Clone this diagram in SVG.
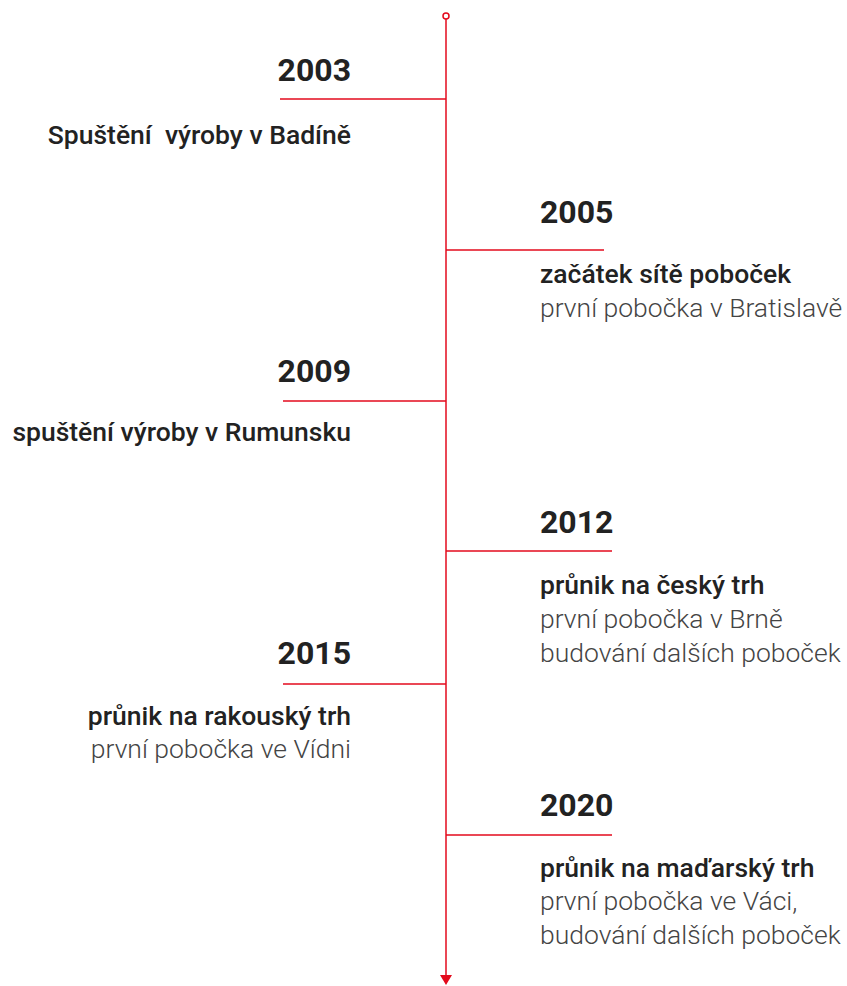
<svg xmlns="http://www.w3.org/2000/svg" width="847" height="986" viewBox="0 0 847 986">
<style>
.yr{font-family:Roboto,"Liberation Sans",sans-serif;font-weight:700;font-size:32px;fill:#222}
.hd{font-family:Roboto,"Liberation Sans",sans-serif;font-weight:500;font-size:26.5px;fill:#222;white-space:pre}
.tx{font-family:Roboto,"Liberation Sans",sans-serif;font-weight:300;font-size:26.5px;fill:#444}
.r{text-anchor:end}
.ln{stroke:#e30a1c;stroke-width:1.5;fill:none}
</style>
<defs>
<marker id="ah" markerWidth="11" markerHeight="12" refX="1" refY="6" orient="auto" markerUnits="userSpaceOnUse">
<path d="M0,0 L10,6 L0,12 Z" fill="#e30a1c"/>
</marker>
</defs>
<g id="connectors">
<line class="ln" x1="446" y1="19" x2="446" y2="976" marker-end="url(#ah)"/>
<circle class="ln" cx="446" cy="16" r="3" fill="#fff"/>
<line class="ln" x1="280" y1="99" x2="446" y2="99"/>
<line class="ln" x1="446" y1="250" x2="604" y2="250"/>
<line class="ln" x1="283" y1="401" x2="446" y2="401"/>
<line class="ln" x1="446" y1="551" x2="612" y2="551"/>
<line class="ln" x1="283" y1="684" x2="446" y2="684"/>
<line class="ln" x1="446" y1="835" x2="612" y2="835"/>
</g>
<g id="n2003"><text class="yr r" x="351" y="81">2003</text><text class="hd r" x="351" y="144" xml:space="preserve">Spuštění  výroby v Badíně</text></g>
<g id="n2005"><text class="yr" x="540" y="223">2005</text><text class="hd" x="540" y="283">začátek sítě poboček</text><text class="tx" x="540" y="317">první pobočka v Bratislavě</text></g>
<g id="n2009"><text class="yr r" x="351" y="382">2009</text><text class="hd r" x="351" y="441">spuštění výroby v Rumunsku</text></g>
<g id="n2012"><text class="yr" x="540" y="533">2012</text><text class="hd" x="540" y="594">průnik na český trh</text><text class="tx" x="540" y="628">první pobočka v Brně</text><text class="tx" x="540" y="662">budování dalších poboček</text></g>
<g id="n2015"><text class="yr r" x="351" y="664">2015</text><text class="hd r" x="351" y="725">průnik na rakouský trh</text><text class="tx r" x="351" y="758">první pobočka ve Vídni</text></g>
<g id="n2020"><text class="yr" x="540" y="816">2020</text><text class="hd" x="540" y="877">průnik na maďarský trh</text><text class="tx" x="540" y="910">první pobočka ve Váci,</text><text class="tx" x="540" y="944">budování dalších poboček</text></g>
</svg>
